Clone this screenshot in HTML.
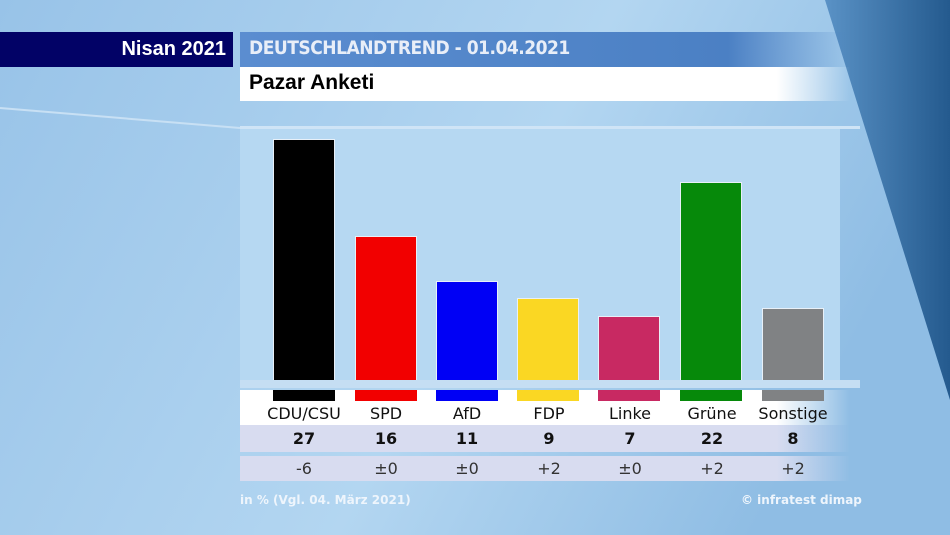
<!DOCTYPE html>
<html><head><meta charset="utf-8"><style>
body{margin:0;width:950px;height:535px;overflow:hidden;position:relative;font-family:"DejaVu Sans","Liberation Sans",sans-serif;background:#a3cbec}
.a{position:absolute}
.bar{position:absolute;bottom:155px;width:62px;box-sizing:border-box;border:1.5px solid #e8f0f8;border-bottom:none}
.sw{position:absolute;top:390px;height:11px;width:62px}
.lb{position:absolute;width:80px;text-align:center;font-size:16px;color:#111}
</style></head><body>
<svg class="a" style="left:0;top:0" width="950" height="535">
<defs>
<linearGradient id="bg" x1="0" y1="0" x2="1" y2="0.3"><stop offset="0" stop-color="#98c3e8"/><stop offset="0.6" stop-color="#b3d6f1"/><stop offset="1" stop-color="#8fbde4"/></linearGradient>
<linearGradient id="dk" x1="0" y1="0" x2="1" y2="0"><stop offset="0" stop-color="#5a92c6"/><stop offset="1" stop-color="#245a8e"/></linearGradient>
</defs>
<rect width="950" height="535" fill="url(#bg)"/>
<rect x="240" y="128" width="600" height="252" fill="#b6d8f2"/>
<line x1="0" y1="108" x2="240" y2="128" stroke="#c8e0f4" stroke-width="2"/>
<rect x="240" y="126" width="620" height="3" fill="#cfe4f6"/>
<rect x="240" y="380" width="620" height="8" fill="#c5def3"/>
<polygon points="825,0 950,0 950,400" fill="url(#dk)"/>
</svg>
<div class="a" style="left:0;top:32px;width:233px;height:35px;background:#020266"></div>
<div class="a" style="left:0;top:38px;width:226px;text-align:right;color:#fff;font:bold 20px 'Liberation Sans',sans-serif">Nisan 2021</div>
<div class="a" style="left:240px;top:32px;width:610px;height:35px;background:linear-gradient(90deg,#5b8dd0,#4b80c4 80%,rgba(80,130,200,0))"></div>
<div class="a" style="left:249px;top:37px;color:#e8eef8;font:bold 19px 'DejaVu Sans Condensed','DejaVu Sans',sans-serif;letter-spacing:-0.5px">DEUTSCHLANDTREND - 01.04.2021</div>
<div class="a" style="left:240px;top:67px;width:610px;height:34px;background:linear-gradient(90deg,#fff 88%,rgba(255,255,255,0))"></div>
<div class="a" style="left:249px;top:71px;color:#000;font:bold 21px 'Liberation Sans',sans-serif">Pazar Anketi</div>
<div class="bar" style="left:273px;height:241px;background:#000"></div>
<div class="bar" style="left:355px;height:144px;background:#f20000"></div>
<div class="bar" style="left:436px;height:99px;background:#0000f5"></div>
<div class="bar" style="left:517px;height:82px;background:#fad723"></div>
<div class="bar" style="left:598px;height:64px;background:#c82962"></div>
<div class="bar" style="left:680px;height:198px;background:#06890a"></div>
<div class="bar" style="left:762px;height:72px;background:#808284"></div>
<div class="a" style="left:240px;top:390px;width:610px;height:35px;background:linear-gradient(90deg,#fff 88%,rgba(255,255,255,0))"></div>
<div class="a" style="left:240px;top:425px;width:610px;height:27px;background:linear-gradient(90deg,#d8dcf0 88%,rgba(216,220,240,0))"></div>
<div class="a" style="left:240px;top:456px;width:610px;height:25px;background:linear-gradient(90deg,#d8dcf0 88%,rgba(216,220,240,0))"></div>
<div class="sw" style="left:273px;background:#000"></div>
<div class="sw" style="left:355px;background:#f20000"></div>
<div class="sw" style="left:436px;background:#0000f5"></div>
<div class="sw" style="left:517px;background:#fad723"></div>
<div class="sw" style="left:598px;background:#c82962"></div>
<div class="sw" style="left:680px;background:#06890a"></div>
<div class="sw" style="left:762px;background:#808284"></div>
<div class="lb" style="left:264px;top:404px">CDU/CSU</div>
<div class="lb" style="left:346px;top:404px">SPD</div>
<div class="lb" style="left:427px;top:404px">AfD</div>
<div class="lb" style="left:509px;top:404px">FDP</div>
<div class="lb" style="left:590px;top:404px">Linke</div>
<div class="lb" style="left:672px;top:404px">Grüne</div>
<div class="lb" style="left:753px;top:404px">Sonstige</div>
<div class="lb" style="left:264px;top:429px;font-weight:bold">27</div>
<div class="lb" style="left:346px;top:429px;font-weight:bold">16</div>
<div class="lb" style="left:427px;top:429px;font-weight:bold">11</div>
<div class="lb" style="left:509px;top:429px;font-weight:bold">9</div>
<div class="lb" style="left:590px;top:429px;font-weight:bold">7</div>
<div class="lb" style="left:672px;top:429px;font-weight:bold">22</div>
<div class="lb" style="left:753px;top:429px;font-weight:bold">8</div>
<div class="lb" style="left:264px;top:459px;color:#333">-6</div>
<div class="lb" style="left:346px;top:459px;color:#333">±0</div>
<div class="lb" style="left:427px;top:459px;color:#333">±0</div>
<div class="lb" style="left:509px;top:459px;color:#333">+2</div>
<div class="lb" style="left:590px;top:459px;color:#333">±0</div>
<div class="lb" style="left:672px;top:459px;color:#333">+2</div>
<div class="lb" style="left:753px;top:459px;color:#333">+2</div>
<div class="a" style="left:240px;top:493px;color:#eef5fc;font:bold 12px 'DejaVu Sans',sans-serif">in % (Vgl. 04. März 2021)</div>
<div class="a" style="left:741px;top:493px;color:#eef5fc;font:bold 12px 'DejaVu Sans',sans-serif">© infratest dimap</div>
</body></html>
